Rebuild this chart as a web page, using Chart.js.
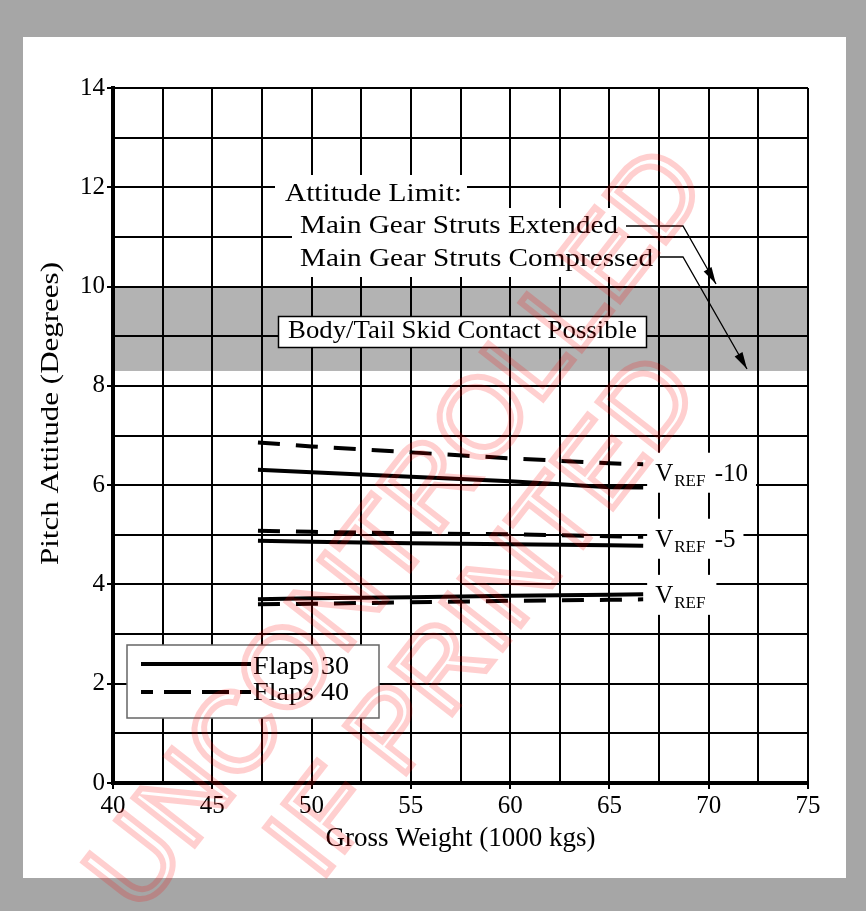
<!DOCTYPE html>
<html>
<head>
<meta charset="utf-8">
<script src="https://cdn.jsdelivr.net/npm/chart.js@4.4.1/dist/chart.umd.min.js"></script>
<style>
html,body{margin:0;padding:0;background:#a6a6a6;}
canvas{display:block;}
</style>
</head>
<body>
<canvas id="pitchChart" width="866" height="911"></canvas>
<script>
// gross weight (1000 kgs) where the curves were read
const weights=[47.3,50,55,60,65,66.7];
// pitch attitude (degrees)
const flaps30Vref10=[6.31,6.26,6.17,6.08,5.96,5.95];
const flaps40Vref10=[6.86,6.78,6.66,6.54,6.44,6.42];
const flaps30Vref5=[4.88,4.86,4.83,4.81,4.79,4.78];
const flaps40Vref5=[5.08,5.06,5.03,5.01,4.97,4.96];
const flaps30Vref=[3.70,3.72,3.74,3.77,3.79,3.80];
const flaps40Vref=[3.60,3.61,3.64,3.67,3.69,3.70];

const legendLabels=["Flaps 30","Flaps 40"];
const vrefSuffix=[" -10"," -5",""];
const vrefLabelAt=[6.25,4.92,3.79];
const tailBand=[8.3,10];

const serif='"Liberation Serif","Times New Roman",serif';
Chart.defaults.font.family=serif;
Chart.defaults.color="#000";

function pts(ys){return weights.map((w,i)=>({x:w,y:ys[i]}));}
function line(label,ys,dashed){
return {label:label,data:pts(ys),showLine:true,borderColor:"#000",borderWidth:4,
pointRadius:0,borderDash:dashed?[22,16]:[],tension:0,borderCapStyle:"butt"};
}

// text squeezed or stretched to the width it has in the original
function fitText(ctx,text,x,y,w){
const m=ctx.measureText(text).width;
ctx.save();
ctx.translate(x,y);
ctx.scale(w/m,1);
ctx.fillText(text,0,0);
ctx.restore();
}

function arrow(ctx,pts){
ctx.beginPath();
ctx.moveTo(pts[0][0],pts[0][1]);
for(let i=1;i<pts.length;i++)ctx.lineTo(pts[i][0],pts[i][1]);
ctx.stroke();
const a=pts[pts.length-2],b=pts[pts.length-1];
const ang=Math.atan2(b[1]-a[1],b[0]-a[0]);
ctx.beginPath();
ctx.moveTo(b[0],b[1]);
ctx.lineTo(b[0]-17*Math.cos(ang)+4.5*Math.sin(ang),b[1]-17*Math.sin(ang)-4.5*Math.cos(ang));
ctx.lineTo(b[0]-17*Math.cos(ang)-4.5*Math.sin(ang),b[1]-17*Math.sin(ang)+4.5*Math.cos(ang));
ctx.closePath();
ctx.fill();
}

const paper={
id:"paper",
beforeDraw(chart){
const ctx=chart.ctx,a=chart.chartArea,y=chart.scales.y;
ctx.save();
ctx.fillStyle="#a6a6a6";
ctx.fillRect(0,0,chart.width,chart.height);
ctx.fillStyle="#fff";
ctx.fillRect(23,37,823,841);
ctx.fillStyle="#b3b3b3";
const t=y.getPixelForValue(tailBand[1]),b=y.getPixelForValue(tailBand[0]);
ctx.fillRect(a.left,t,a.right-a.left,b-t);
// y title
ctx.fillStyle="#000";
ctx.font="25px "+serif;
ctx.translate(51,414);
ctx.rotate(-Math.PI/2);
ctx.textBaseline="middle";
fitText(ctx,"Pitch Attitude (Degrees)",-151,0,303);
ctx.restore();
},
afterDatasetsDraw(chart){
const ctx=chart.ctx,x=chart.scales.x,y=chart.scales.y;
ctx.save();
ctx.fillStyle="#fff";
ctx.fillRect(275,175,192,33);
ctx.fillRect(292,208,335,36);
ctx.fillRect(292,244,366,33);
ctx.fillStyle="#000";
ctx.font="25px "+serif;
ctx.textBaseline="alphabetic";
fitText(ctx,"Attitude Limit:",285,201,177);
fitText(ctx,"Main Gear Struts Extended",300,233,318);
fitText(ctx,"Main Gear Struts Compressed",300,266,353);
// leaders
ctx.lineWidth=1.3;
ctx.strokeStyle="#000";
arrow(ctx,[[626,226],[683,226],[716,284]]);
arrow(ctx,[[659,257],[683,257],[747,369]]);
// skid box
ctx.fillStyle="#fff";
ctx.fillRect(278,316,369,32);
ctx.lineWidth=1.5;
ctx.strokeRect(278.5,316.5,368,31);
ctx.fillStyle="#000";
fitText(ctx,"Body/Tail Skid Contact Possible",288,338,349);
// vref labels
const lx=x.getPixelForValue(66.9);
vrefSuffix.forEach((s,i)=>{
const cy=y.getPixelForValue(vrefLabelAt[i]);
ctx.font="25px "+serif;
const wV=ctx.measureText("V").width+2;
const wS=ctx.measureText(s).width+2;
ctx.font="17px "+serif;
const wR=ctx.measureText("REF").width+2;
ctx.fillStyle="#fff";
ctx.fillRect(lx,cy-20,8+wV+wR+wS+6,40);
ctx.fillStyle="#000";
ctx.font="25px "+serif;
ctx.fillText("V",lx+8,cy+8);
ctx.font="17px "+serif;
ctx.fillText("REF",lx+7+wV,cy+13);
ctx.font="25px "+serif;
ctx.fillText(s,lx+8+wV+wR,cy+8);
});
// legend
ctx.fillStyle="#fff";
ctx.fillRect(127,645,252,73);
ctx.strokeStyle="#666";
ctx.lineWidth=1.5;
ctx.strokeRect(127,645,252,73);
ctx.strokeStyle="#000";
ctx.lineWidth=4;
ctx.beginPath();ctx.moveTo(141,664);ctx.lineTo(251,664);ctx.stroke();
ctx.setLineDash([27,11]);ctx.lineDashOffset=15;
ctx.beginPath();ctx.moveTo(141,692);ctx.lineTo(251,692);ctx.stroke();
ctx.setLineDash([]);
ctx.fillStyle="#000";
ctx.font="25px "+serif;
fitText(ctx,legendLabels[0],253,674,96);
fitText(ctx,legendLabels[1],253,700,96);
ctx.restore();
},
afterDraw(chart){
const ctx=chart.ctx;
ctx.save();
ctx.translate(400,532);
ctx.rotate(-52*Math.PI/180);
ctx.font='112px "Liberation Sans",Arial,sans-serif';
ctx.textAlign="center";
ctx.textBaseline="middle";
ctx.strokeStyle="rgba(255,0,0,0.19)";
ctx.lineWidth=6;
ctx.strokeText("UNCONTROLLED",0,0);
ctx.strokeText("IF PRINTED",-15,122);
ctx.restore();
}
};

new Chart(document.getElementById("pitchChart"),{
type:"scatter",
data:{datasets:[
line("Flaps 30 VREF -10",flaps30Vref10,false),
line("Flaps 40 VREF -10",flaps40Vref10,true),
line("Flaps 30 VREF -5",flaps30Vref5,false),
line("Flaps 40 VREF -5",flaps40Vref5,true),
line("Flaps 30 VREF",flaps30Vref,false),
line("Flaps 40 VREF",flaps40Vref,true)
]},
options:{
responsive:false,
animation:false,
layout:{padding:{top:88,right:58,left:0,bottom:0}},
plugins:{legend:{display:false},tooltip:{enabled:false}},
scales:{
x:{type:"linear",min:40,max:75,
afterFit:s=>{s.height=128;},
ticks:{stepSize:2.5,autoSkip:false,maxRotation:0,font:{size:25},padding:2,
callback:v=>v%5===0?v:""},
grid:{color:"#000",lineWidth:2,tickLength:6,
tickColor:c=>c.tick&&c.tick.value%5===0?"#000":"rgba(0,0,0,0)"},
border:{color:"#000",width:4},
title:{display:true,text:"Gross Weight (1000 kgs)",font:{size:27},padding:{bottom:56}}
},
y:{min:0,max:14,
afterFit:s=>{s.width=113;},
ticks:{stepSize:1,font:{size:25},padding:2,
callback:v=>v%2===0?v:""},
grid:{color:"#000",lineWidth:2,tickLength:6,
tickColor:c=>c.tick&&c.tick.value%2===0?"#000":"rgba(0,0,0,0)"},
border:{color:"#000",width:4}
}
}
},
plugins:[paper]
});
</script>
</body>
</html>
